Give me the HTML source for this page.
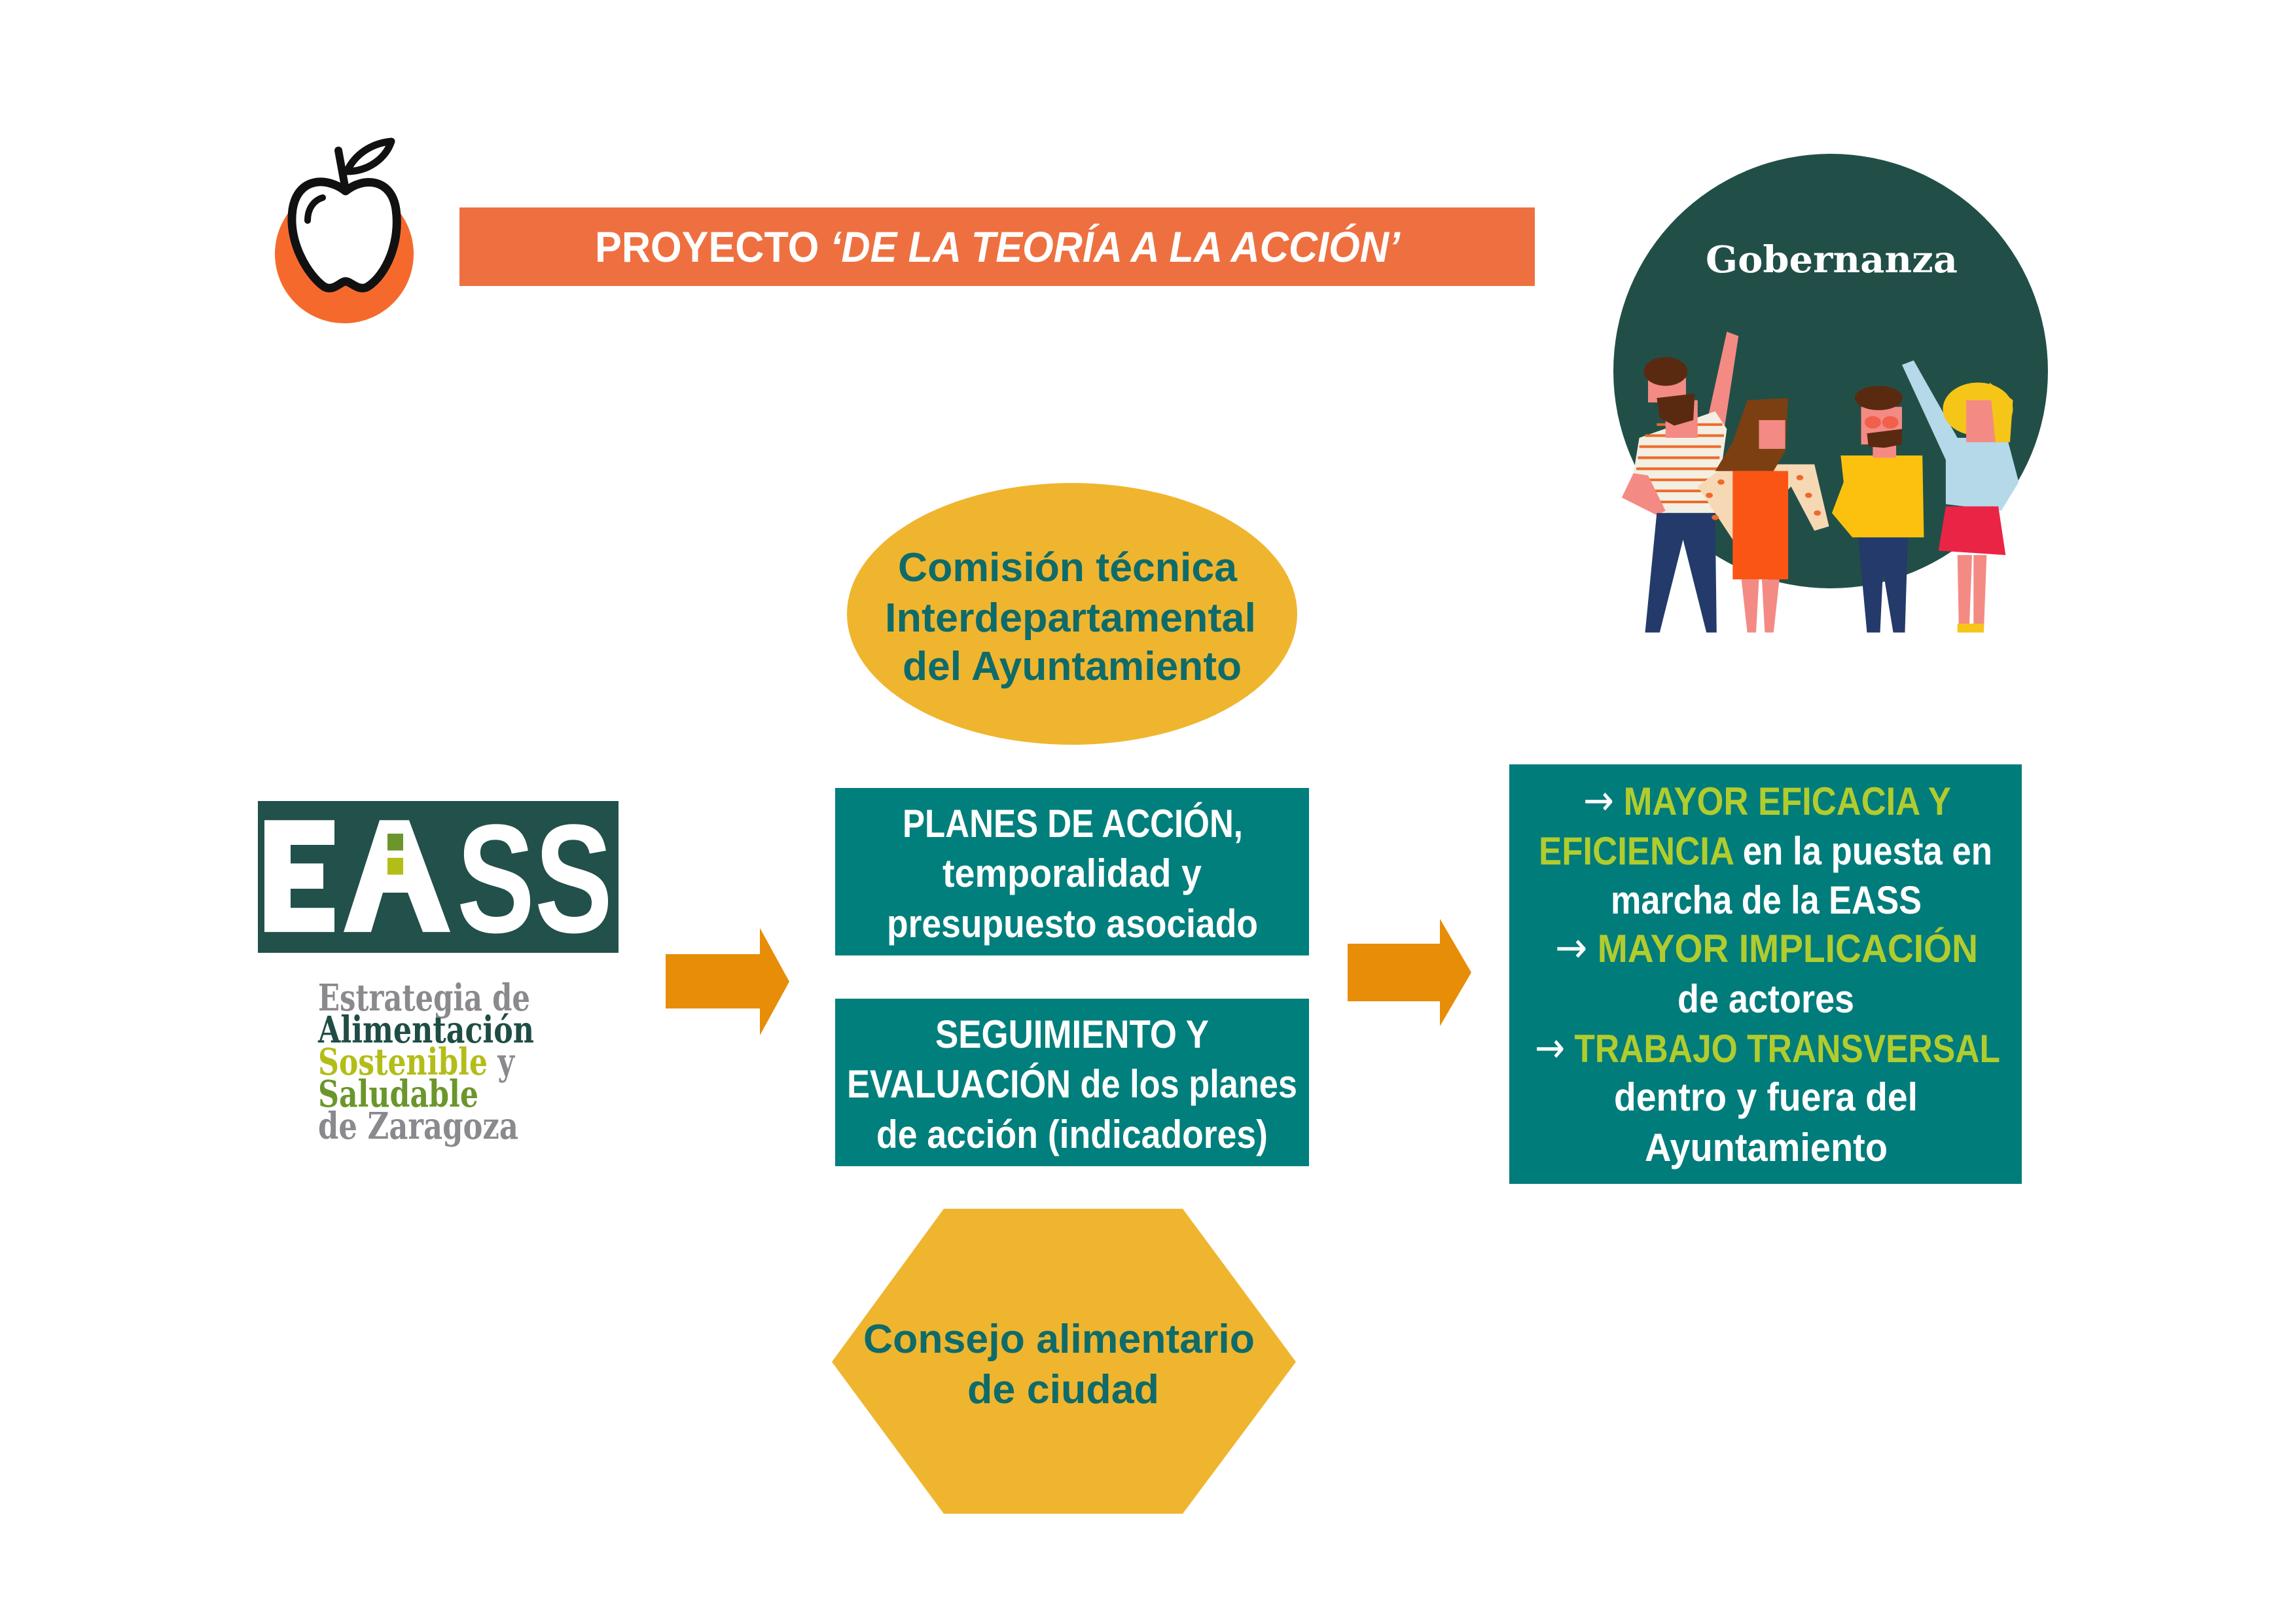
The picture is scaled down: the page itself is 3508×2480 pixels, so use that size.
<!DOCTYPE html>
<html><head><meta charset="utf-8"><style>html,body{margin:0;padding:0;background:#fff}svg{display:block}</style></head>
<body>
<svg width="3508" height="2480" viewBox="0 0 3508 2480" xmlns="http://www.w3.org/2000/svg" font-family="'Liberation Sans', sans-serif" font-weight="bold">
<rect width="3508" height="2480" fill="#fff"/>
<!-- apple -->
<circle cx="526" cy="388" r="106" fill="#f56a2c"/>
<path d="M528,292 C500,270 455,270 447,320 C440,370 470,420 495,438 C510,446 520,430 528,430 C536,430 548,446 562,438 C590,420 612,370 605,320 C598,272 555,270 528,292 Z" fill="#fff" stroke="#111" stroke-width="13" stroke-linejoin="round"/>
<path d="M528,290 L517,230" stroke="#111" stroke-width="12" stroke-linecap="round"/>
<path d="M530,262 C545,230 575,218 598,216 C590,240 565,262 530,262 Z" fill="#fff" stroke="#111" stroke-width="11" stroke-linejoin="round"/>
<path d="M470,337 C470,318 480,306 493,302" fill="none" stroke="#111" stroke-width="10" stroke-linecap="round"/>
<!-- title -->
<rect x="702" y="317" width="1643" height="120" fill="#ee7040"/>
<text x="909" y="400" font-size="66" fill="#fff" textLength="1230" lengthAdjust="spacingAndGlyphs">PROYECTO <tspan font-style="italic">‘DE LA TEORÍA A LA ACCIÓN’</tspan></text>
<!-- governance circle -->
<circle cx="2797" cy="567" r="332" fill="#214f47"/>
<text x="2606" y="416" font-family="'DejaVu Serif','Liberation Serif',serif" font-weight="bold" font-size="56" fill="#fff" textLength="385" lengthAdjust="spacingAndGlyphs">Gobernanza</text>
<g transform="translate(2460,500) scale(0.446,0.338)">
  <polygon points="330,440 400,20 440,40 390,470" fill="#f48a84"/>
  <polygon points="100,500 360,380 400,460 360,840 160,840 80,660" fill="#f3efe3"/>
  <g stroke="#ee6a2a" stroke-width="12">
    <line x1="100" y1="540" x2="380" y2="540"/><line x1="95" y1="590" x2="375" y2="590"/><line x1="90" y1="640" x2="372" y2="640"/><line x1="110" y1="690" x2="368" y2="690"/><line x1="140" y1="740" x2="364" y2="740"/><line x1="150" y1="790" x2="362" y2="790"/><line x1="160" y1="440" x2="385" y2="440"/><line x1="120" y1="490" x2="390" y2="490"/>
  </g>
  <polygon points="80,660 130,670 190,830 160,850 40,770" fill="#f48a84"/>
  <rect x="130" y="230" width="130" height="110" fill="#f48a84"/>
  <rect x="190" y="330" width="110" height="170" fill="#f48a84"/>
  <ellipse cx="190" cy="200" rx="75" ry="65" fill="#5a2a10"/>
  <polygon points="160,320 290,300 285,420 220,445 170,410" fill="#5a2a10"/>
  <polygon points="160,840 360,840 365,1380 330,1380 250,960 170,1380 120,1380" fill="#233a6b"/>
  <polygon points="300,720 400,620 700,620 750,900 700,920 620,720 450,960 420,960" fill="#f7d8b4"/>
  <g fill="#ee6a2a"><circle cx="340" cy="760" r="12"/><circle cx="380" cy="700" r="12"/><circle cx="360" cy="860" r="12"/><circle cx="650" cy="680" r="12"/><circle cx="680" cy="760" r="12"/><circle cx="710" cy="840" r="12"/><circle cx="480" cy="680" r="12"/><circle cx="540" cy="690" r="12"/></g>
  <polygon points="450,1140 510,1140 500,1380 470,1380" fill="#f48a84"/>
  <polygon points="520,1140 580,1140 560,1380 530,1380" fill="#f48a84"/>
  <rect x="420" y="650" width="190" height="490" fill="#fb5515"/>
  <polygon points="470,330 610,320 600,560 560,650 360,650 420,520" fill="#7b3f12"/>
  <rect x="510" y="420" width="90" height="130" fill="#f48a84"/>
  <polygon points="850,950 1020,950 1010,1380 970,1380 935,1100 925,1380 880,1380" fill="#233a6b"/>
  <polygon points="790,580 1070,580 1075,950 830,950 760,840 800,700" fill="#fcc10f"/>
  <rect x="860" y="360" width="140" height="170" fill="#f48a84"/>
  <rect x="900" y="520" width="80" height="70" fill="#f48a84"/>
  <polygon points="880,480 1000,460 1000,530 940,545 885,540" fill="#5a2a10"/>
  <ellipse cx="920" cy="320" rx="82" ry="55" fill="#5a2a10"/>
  <circle cx="900" cy="430" r="28" fill="#f0604a"/><circle cx="960" cy="430" r="28" fill="#f0604a"/>
  <polygon points="1000,170 1040,150 1190,500 1150,600" fill="#b5d9e9"/>
  <polygon points="1190,1030 1240,1030 1230,1380 1195,1380" fill="#f48a84"/>
  <polygon points="1245,1030 1290,1030 1280,1380 1245,1380" fill="#f48a84"/>
  <rect x="1190" y="1340" width="90" height="40" fill="#f5c518"/>
  <polygon points="1150,500 1360,500 1400,700 1340,830 1150,800" fill="#b5d9e9"/>
  <polygon points="1150,810 1330,810 1355,1030 1125,1010" fill="#ea2445"/>
  <circle cx="1260" cy="370" r="120" fill="#f5c518"/>
  <rect x="1220" y="330" width="110" height="190" fill="#f48a84"/>
  <polygon points="1300,250 1380,330 1370,520 1320,520" fill="#f5c518"/>
</g>
<!-- comision ellipse -->
<ellipse cx="1638" cy="938" rx="344" ry="200" fill="#efb52e"/>
<g font-size="62" fill="#0e6b6a">
<text x="1372" y="888" textLength="518" lengthAdjust="spacingAndGlyphs">Comisión técnica</text>
<text x="1352" y="965" textLength="567" lengthAdjust="spacingAndGlyphs">Interdepartamental</text>
<text x="1379" y="1039" textLength="518" lengthAdjust="spacingAndGlyphs">del Ayuntamiento</text>
</g>
<!-- boxes -->
<rect x="1276" y="1204" width="724" height="256" fill="#007f7c"/>
<rect x="1276" y="1526" width="724" height="256" fill="#007f7c"/>
<g font-size="60" fill="#fff">
<text x="1379" y="1279" textLength="520" lengthAdjust="spacingAndGlyphs">PLANES DE ACCIÓN,</text>
<text x="1440" y="1355" textLength="396" lengthAdjust="spacingAndGlyphs">temporalidad y</text>
<text x="1355" y="1432" textLength="567" lengthAdjust="spacingAndGlyphs">presupuesto asociado</text>
<text x="1429" y="1601" textLength="418" lengthAdjust="spacingAndGlyphs">SEGUIMIENTO Y</text>
<text x="1294" y="1677" textLength="688" lengthAdjust="spacingAndGlyphs">EVALUACIÓN de los planes</text>
<text x="1339" y="1754" textLength="598" lengthAdjust="spacingAndGlyphs">de acción (indicadores)</text>
</g>
<!-- hexagon -->
<polygon points="1442,1847 1807,1847 1980,2081 1807,2313 1442,2313 1271,2081" fill="#efb52e"/>
<g font-size="62" fill="#0e6b6a">
<text x="1319" y="2067" textLength="598" lengthAdjust="spacingAndGlyphs">Consejo alimentario</text>
<text x="1478" y="2144" textLength="293" lengthAdjust="spacingAndGlyphs">de ciudad</text>
</g>
<!-- arrows -->
<polygon points="1017,1458 1161,1458 1161,1418 1206,1500 1161,1582 1161,1541 1017,1541" fill="#e88d08"/>
<polygon points="2059,1442 2200,1442 2200,1404 2248,1486 2200,1568 2200,1530 2059,1530" fill="#e88d08"/>
<!-- EASS logo -->
<g transform="translate(0,1224) scale(1,0.859) translate(0,-1222)">
<rect x="394" y="1222" width="551" height="270" fill="#22504a"/>
<g fill="#fff">
  <polygon points="404,1256 511,1256 511,1300 444,1300 444,1333 494,1333 494,1378 444,1378 444,1412 511,1412 511,1455 404,1455"/>
  <polygon points="580,1256 625,1256 688,1455 646,1455 623,1385 585,1385 567,1455 525,1455"/>
</g>
<rect x="592" y="1280" width="24" height="30" fill="#6b962b"/>
<rect x="592" y="1323" width="24" height="30" fill="#b3bd18"/>
<text x="698" y="1455" font-size="275" fill="#fff" textLength="238" lengthAdjust="spacingAndGlyphs">SS</text>
</g>
<g font-family="'DejaVu Serif','Liberation Serif',serif" font-size="56">
<text x="486" y="1544" fill="#8a8a8e" textLength="324" lengthAdjust="spacingAndGlyphs">Estrategia de</text>
<text x="486" y="1593" fill="#1f4d45" textLength="330" lengthAdjust="spacingAndGlyphs">Alimentación</text>
<text x="486" y="1642" fill="#b3bd18" textLength="300" lengthAdjust="spacingAndGlyphs">Sostenible<tspan fill="#8a8a8e"> y</tspan></text>
<text x="486" y="1691" fill="#6b962b" textLength="245" lengthAdjust="spacingAndGlyphs">Saludable</text>
<text x="486" y="1740" fill="#8a8a8e" textLength="306" lengthAdjust="spacingAndGlyphs">de Zaragoza</text>
</g>
<!-- right box -->
<rect x="2306" y="1168" width="783" height="641" fill="#007c7b"/>
<g font-size="60" fill="#fff">
<text x="2419" y="1245" textLength="562" lengthAdjust="spacingAndGlyphs"><tspan font-family="'DejaVu Sans',sans-serif" font-weight="normal" font-size="64">→</tspan> <tspan fill="#b1cc2e">MAYOR EFICACIA Y</tspan></text>
<text x="2351" y="1321" textLength="693" lengthAdjust="spacingAndGlyphs"><tspan fill="#b1cc2e">EFICIENCIA</tspan> en la puesta en</text>
<text x="2461" y="1396" textLength="475" lengthAdjust="spacingAndGlyphs">marcha de la EASS</text>
<text x="2376" y="1470" textLength="646" lengthAdjust="spacingAndGlyphs"><tspan font-family="'DejaVu Sans',sans-serif" font-weight="normal" font-size="64">→</tspan> <tspan fill="#b1cc2e">MAYOR  IMPLICACIÓN</tspan></text>
<text x="2563" y="1547" textLength="270" lengthAdjust="spacingAndGlyphs">de actores</text>
<text x="2345" y="1623" textLength="711" lengthAdjust="spacingAndGlyphs"><tspan font-family="'DejaVu Sans',sans-serif" font-weight="normal" font-size="64">→</tspan> <tspan fill="#b1cc2e">TRABAJO  TRANSVERSAL</tspan></text>
<text x="2466" y="1697" textLength="464" lengthAdjust="spacingAndGlyphs">dentro y fuera del</text>
<text x="2513" y="1774" textLength="371" lengthAdjust="spacingAndGlyphs">Ayuntamiento</text>
</g>
</svg>
</body></html>
